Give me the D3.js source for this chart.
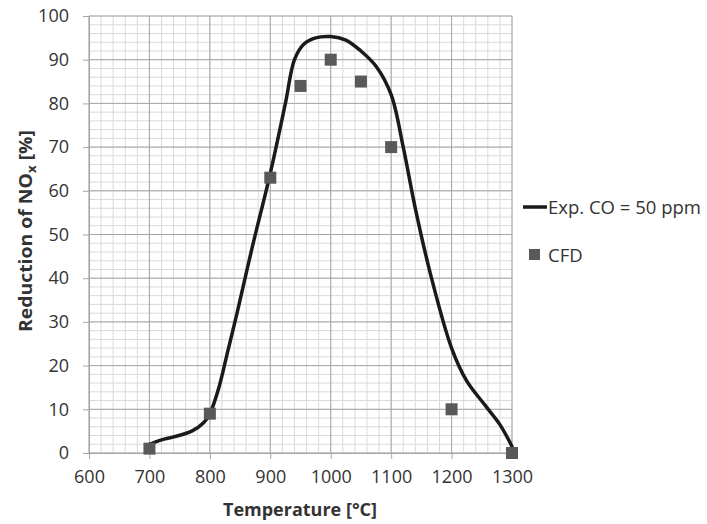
<!DOCTYPE html>
<html><head><meta charset="utf-8">
<script src="https://cdn.jsdelivr.net/npm/d3@7"></script>
<style>body{margin:0;background:#fff}svg text{font-family:"Open Sans","Liberation Sans",sans-serif}</style>
</head><body><svg id="c" width="707" height="524"></svg>
<script>
const expT = [700,720,740,770,790,800,815,830,845,870,900,925,940,955,975,1000,1025,1050,1075,1100,1120,1140,1165,1200,1225,1255,1280,1300];
const expV = [2,3,3.7,5,7,9,15,23.5,32,47,64,80,90,93.5,95,95.3,94.5,92,88.5,82,70,56,41,24,16.5,11,6.5,1.5];
const cfdT = [700,800,900,950,1000,1050,1100,1200,1300];
const cfdV = [1,9,63,84,90,85,70,10,0];
const xTicks = [600,700,800,900,1000,1100,1200,1300];
const yTicks = [0,10,20,30,40,50,60,70,80,90,100];

const svg = d3.select("#c");
const x = d3.scaleLinear().domain([600,1300]).range([89,512]);
const y = d3.scaleLinear().domain([0,100]).range([453,16]);

const g = svg.append("g");
// minor grid
g.selectAll(".mx").data(d3.range(600,1301,20)).join("line")
  .attr("x1",d=>x(d)).attr("x2",d=>x(d)).attr("y1",y(0)).attr("y2",y(100))
  .attr("stroke","#d9d9d9").attr("stroke-width",1);
g.selectAll(".my").data(d3.range(0,101,2)).join("line")
  .attr("y1",d=>y(d)).attr("y2",d=>y(d)).attr("x1",x(600)).attr("x2",x(1300))
  .attr("stroke","#d9d9d9").attr("stroke-width",1);
// major grid
g.selectAll(".Mx").data(xTicks).join("line")
  .attr("x1",d=>x(d)).attr("x2",d=>x(d)).attr("y1",y(0)).attr("y2",y(100))
  .attr("stroke","#a6a6a6").attr("stroke-width",1);
g.selectAll(".My").data(yTicks).join("line")
  .attr("y1",d=>y(d)).attr("y2",d=>y(d)).attr("x1",x(600)).attr("x2",x(1300))
  .attr("stroke","#a6a6a6").attr("stroke-width",1);

// axes
const xa = svg.append("g").attr("transform",`translate(0,${y(0)})`)
  .call(d3.axisBottom(x).tickValues(xTicks).tickFormat(d3.format("d")).tickSize(6).tickPadding(11).tickSizeOuter(0));
const ya = svg.append("g").attr("transform",`translate(${x(600)},0)`)
  .call(d3.axisLeft(y).tickValues(yTicks).tickFormat(d3.format("d")).tickSize(6).tickPadding(14).tickSizeOuter(0));
[xa,ya].forEach(a=>{
  a.select(".domain").attr("stroke","#a6a6a6");
  a.selectAll(".tick line").attr("stroke","#a6a6a6");
  a.selectAll("text").attr("font-size",18).attr("fill","#333");
});

// curve
const line = d3.line().x(d=>x(d[0])).y(d=>y(d[1])).curve(d3.curveCatmullRom.alpha(0.5));
svg.append("path").datum(expT.map((t,i)=>[t,expV[i]])).attr("d",line)
  .attr("fill","none").attr("stroke","#1a1a1a").attr("stroke-width",3.5).attr("stroke-linecap","round");

// markers
const ms = 12;
svg.selectAll(".cfd").data(cfdT.map((t,i)=>[t,cfdV[i]])).join("rect")
  .attr("x",d=>x(d[0])-ms/2).attr("y",d=>y(d[1])-ms/2).attr("width",ms).attr("height",ms)
  .attr("fill","#595959");

// axis titles
svg.append("text").attr("x",300).attr("y",516).attr("text-anchor","middle")
  .attr("font-size",18).attr("font-weight","bold").attr("fill","#333").text("Temperature [°C]");
const yt = svg.append("text").attr("transform","translate(32,231) rotate(-90)").attr("text-anchor","middle")
  .attr("font-size",17.5).attr("font-weight","bold").attr("fill","#333")
  .attr("textLength",202).attr("lengthAdjust","spacingAndGlyphs");
yt.append("tspan").text("Reduction of NO");
yt.append("tspan").attr("font-size",12).attr("dy",4).text("x");
yt.append("tspan").attr("dy",-4).text(" [%]");

// legend
svg.append("line").attr("x1",523).attr("x2",547).attr("y1",207).attr("y2",207)
  .attr("stroke","#1a1a1a").attr("stroke-width",3.5);
svg.append("text").attr("x",548).attr("y",214).attr("font-size",18.5).attr("fill","#333").text("Exp. CO = 50 ppm");
svg.append("rect").attr("x",529).attr("y",249).attr("width",11).attr("height",11).attr("fill","#595959");
svg.append("text").attr("x",548).attr("y",262).attr("font-size",18.5).attr("fill","#333").text("CFD");
</script></body></html>
